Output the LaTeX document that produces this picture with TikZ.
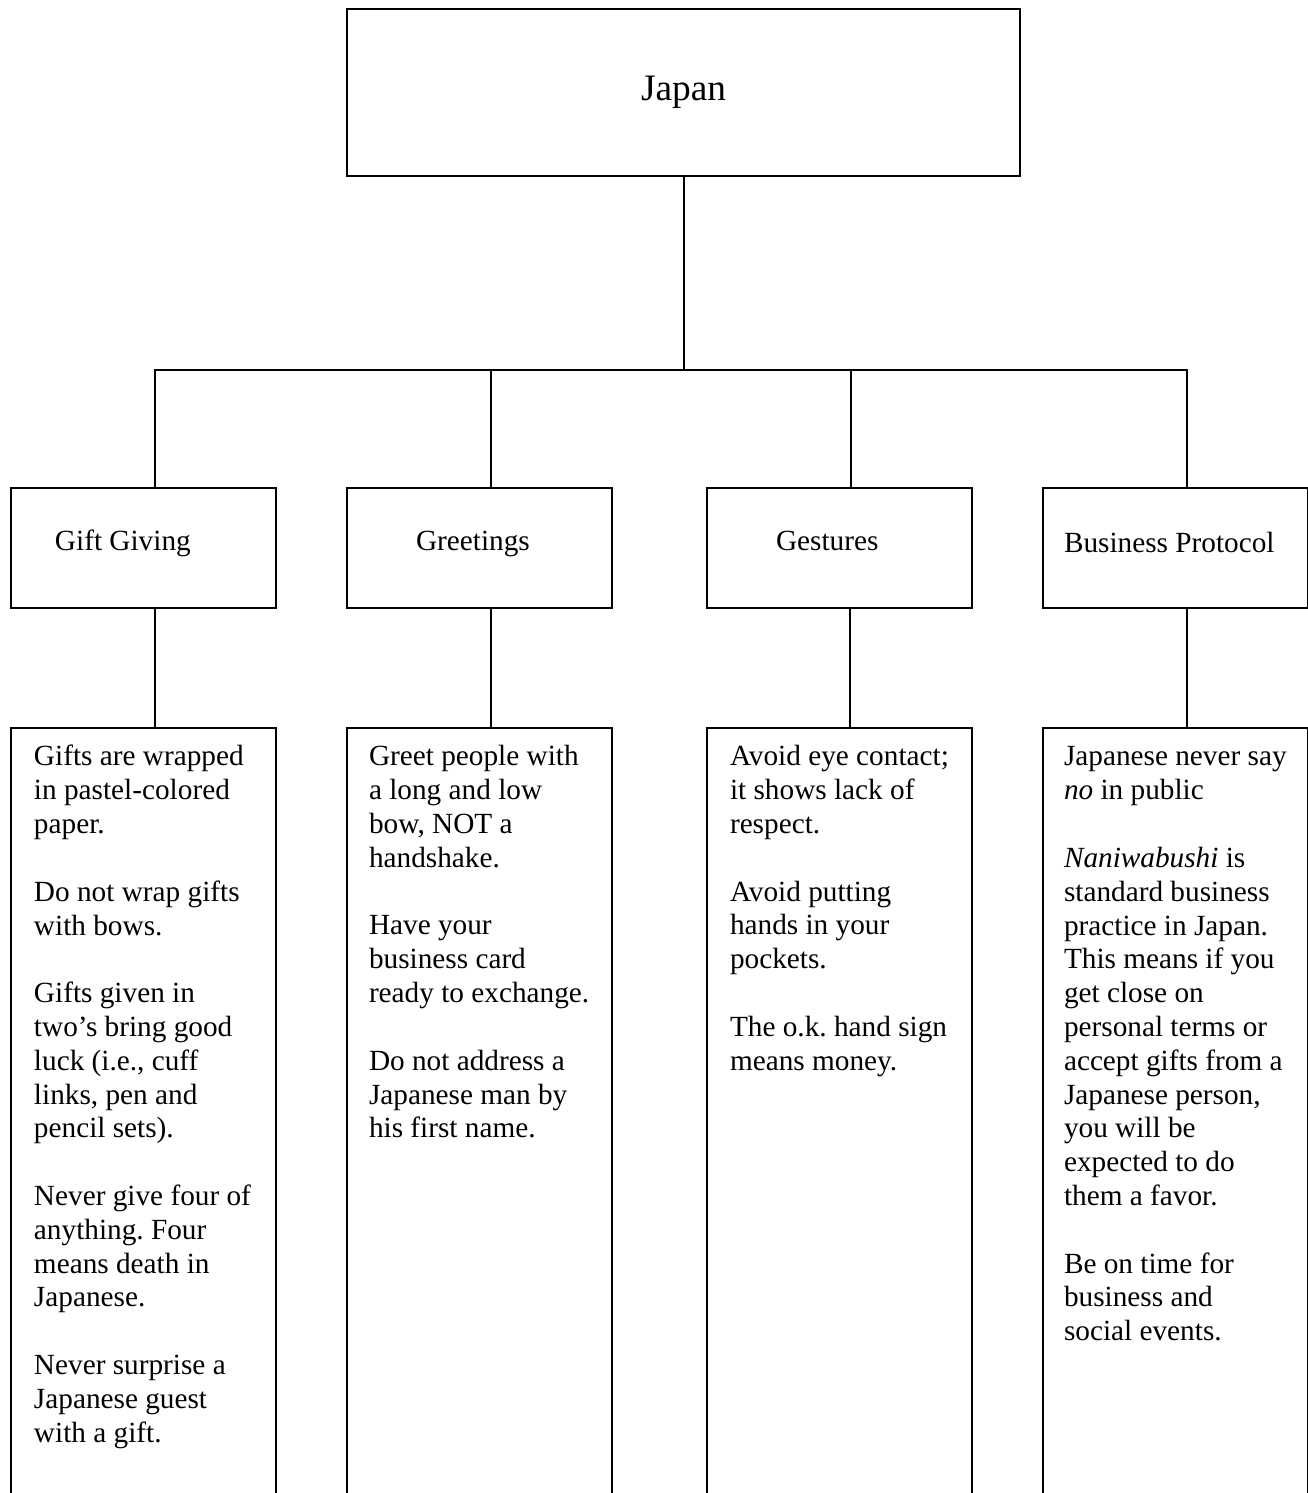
\documentclass[tikz,border=0pt]{standalone}
\usepackage{fontspec}
\setmainfont{Liberation Serif}
\usetikzlibrary{positioning,calc}
\newdimen\pxu
\pxu=0.41pt
\frenchspacing

\begin{document}
\begin{tikzpicture}[
  x=0.41pt, y=-0.41pt,
  line width=2\pxu,
  topbox/.style={draw, outer sep=0pt, minimum width=673\pxu, minimum height=167\pxu, font=\fontsize{15.3}{17}\selectfont},
  catbox/.style={draw, outer sep=0pt, minimum width=265\pxu, minimum height=120\pxu},
  notebox/.style={draw, outer sep=0pt, minimum width=265\pxu, minimum height=900\pxu},
  cattext/.style={anchor=base west, inner sep=0pt, font=\fontsize{12}{13.86}\selectfont},
  notetext/.style={anchor=north west, inner sep=0pt, align=left, font=\fontsize{12}{13.86}\selectfont\frenchspacing}
]
\useasboundingbox (0,0) rectangle (1308,1493);

\node[topbox] (japan) at (683.5,92.5) {Japan};

\node[catbox] (gift) at (143.5,548) {};
\node[catbox] (greet) at (479.5,548) {};
\node[catbox] (gest) at (839,548) {};
\node[catbox] (bizp) at (1175.5,548) {};

\node[notebox, below=49.2pt of gift] (gift-notes) {};
\node[notebox, below=49.2pt of greet] (greet-notes) {};
\node[notebox, below=49.2pt of gest] (gest-notes) {};
\node[notebox, below=49.2pt of bizp] (bizp-notes) {};

\node[cattext] (gift-t) at ($(gift.north west)+(43,62)$) {Gift Giving};
\node[cattext] (greet-t) at ($(greet.north west)+(68,62)$) {Greetings};
\node[cattext] (gest-t) at ($(gest.north west)+(68.5,62)$) {Gestures};
\node[cattext] (bizp-t) at ($(bizp.north west)+(20,64)$) {Business Protocol};

\node[notetext] (gift-list) at ($(gift-notes.north west)+(22,13.3)$) {%
  \strut Gifts are wrapped\\ in pastel-colored\\ paper.\\[13.86pt]
  Do not wrap gifts\\ with bows.\\[13.86pt]
  Gifts given in\\ two’s bring good\\ luck (i.e., cuff\\ links, pen and\\ pencil sets).\\[13.86pt]
  Never give four of\\ anything. Four\\ means death in\\ Japanese.\\[13.86pt]
  Never surprise a\\ Japanese guest\\ with a gift.};
\node[notetext] (greet-list) at ($(greet-notes.north west)+(21,13.3)$) {%
  \strut Greet people with\\ a long and low\\ bow, NOT a\\ handshake.\\[13.86pt]
  Have your\\ business card\\ ready to exchange.\\[13.86pt]
  Do not address a\\ Japanese man by\\ his first name.};
\node[notetext] (gest-list) at ($(gest-notes.north west)+(22.5,13.3)$) {%
  \strut Avoid eye contact;\\ it shows lack of\\ respect.\\[13.86pt]
  Avoid putting\\ hands in your\\ pockets.\\[13.86pt]
  The o.k. hand sign\\ means money.};
\node[notetext] (bizp-list) at ($(bizp-notes.north west)+(20,13.3)$) {%
  \strut Japanese never say\\ \textit{no} in public\\[13.86pt]
  \textit{Naniwabushi} is\\ standard business\\ practice in Japan.\\ This means if you\\ get close on\\ personal terms or\\ accept gifts from a\\ Japanese person,\\ you will be\\ expected to do\\ them a favor.\\[13.86pt]
  Be on time for\\ business and\\ social events.};

\coordinate (bus) at (683.5,370);
\draw (japan.south) -- (bus);
\draw ([xshift=4.7pt]gift.north) |- (bus) -| ([xshift=4.7pt]bizp.north);
\draw ([xshift=4.7pt]greet.north) -- ([xshift=4.7pt]greet.north |- bus);
\draw ([xshift=4.9pt]gest.north) -- ([xshift=4.9pt]gest.north |- bus);
\foreach \n in {gift,greet,gest,bizp}
  \draw ([xshift=4.7pt]\n.south) -- ([xshift=4.7pt]\n-notes.north);
\end{tikzpicture}
\end{document}
